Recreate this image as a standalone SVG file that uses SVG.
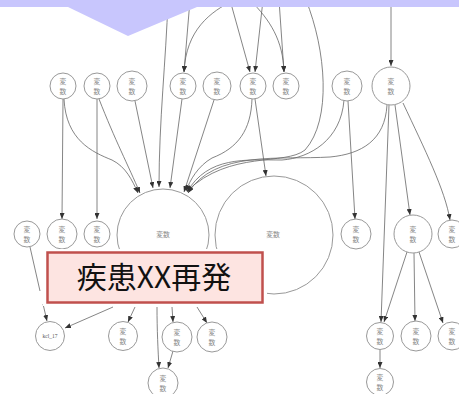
<svg xmlns="http://www.w3.org/2000/svg" width="459" height="394" viewBox="0 0 459 394">
<defs>
<marker id="arr" markerWidth="6" markerHeight="5" refX="6" refY="2.5" orient="auto" markerUnits="userSpaceOnUse">
<path d="M0,0 L6,2.5 L0,5 z" fill="#333"/>
</marker>
</defs>
<style>
.e{fill:none;stroke:#666;stroke-width:0.8;marker-end:url(#arr)}
.p{fill:none;stroke:#666;stroke-width:0.8}
.n{fill:#fff;stroke:#999;stroke-width:1}
.t{font-family:"Noto Sans CJK JP","Noto Sans CJK SC",sans-serif;font-size:6.8px;fill:#888;text-anchor:middle}
.k{font-family:"Liberation Serif",serif;font-size:5.5px;fill:#555;text-anchor:middle}
</style>
<rect width="459" height="394" fill="#fff"/>
<g id="connectors">
<path class="e" d="M168,0 C166,60 159,120 159,187"/>
<path class="e" d="M190,0 L184,72"/>
<path class="e" d="M234,0 C210,12 186,30 184,72"/>
<path class="e" d="M230,0 L250,72"/>
<path class="e" d="M263,0 L255,72"/>
<path class="e" d="M250,0 C270,20 283,40 284,72"/>
<path class="e" d="M279,0 L284,72"/>
<path class="e" d="M306,0 C326,50 332,120 305,150 C285,166 230,150 187,191"/>
<path class="e" d="M391,0 L391,66"/>
<path class="e" d="M63,99 L62,219"/>
<path class="e" d="M64,99 C66,140 92,152 112,160 C126,167 132,180 138,193"/>
<path class="e" d="M97,99 L97,219"/>
<path class="e" d="M99,99 C115,140 128,165 140,193"/>
<path class="e" d="M135,101 L153,188"/>
<path class="e" d="M182,99 L170,188"/>
<path class="e" d="M214,100 L184,192"/>
<path class="e" d="M252,99 C251,130 238,148 212,158 C198,166 190,180 186,191"/>
<path class="e" d="M255,99 L266,176"/>
<path class="e" d="M344,100 C341,140 310,158 282,160 C245,160 208,156 187,192"/>
<path class="e" d="M348,101 L355,219"/>
<path class="e" d="M387,105 C385,140 362,154 330,157 C280,160 215,150 188,193"/>
<path class="e" d="M389,105 L381,322"/>
<path class="e" d="M395,105 L410,215"/>
<path class="e" d="M403,103 C425,150 445,190 450,220"/>
<path class="p" d="M30,247 L40,291"/>
<path class="e" d="M43,304 L47,321"/>
<path class="e" d="M113,307 L65,328"/>
<path class="e" d="M135,307 L128,322"/>
<path class="e" d="M157,307 C157,330 158,350 159,368"/>
<path class="e" d="M172,307 L173,322"/>
<path class="e" d="M173,351 L168,368"/>
<path class="e" d="M197,307 L207,323"/>
<path class="e" d="M407,252 L384,322"/>
<path class="e" d="M414,253 L415,321"/>
<path class="e" d="M419,252 L443,323"/>
<path class="e" d="M380,349 L380,368"/>
</g>
<g id="banner">
<rect x="0" y="0" width="459" height="7" fill="#c8c6fd"/>
<polygon points="68,7 197,7 128,36" fill="#c8c6fd"/>
</g>
<g id="n1"><circle class="n" cx="63" cy="86" r="13"/><text class="t" x="63" y="84">変</text><text class="t" x="63" y="94">数</text></g>
<g id="n2"><circle class="n" cx="97" cy="86" r="13"/><text class="t" x="97" y="84">変</text><text class="t" x="97" y="94">数</text></g>
<g id="n3"><circle class="n" cx="132" cy="86" r="15"/><text class="t" x="132" y="84">変</text><text class="t" x="132" y="94">数</text></g>
<g id="n4"><circle class="n" cx="183" cy="86" r="13"/><text class="t" x="183" y="84">変</text><text class="t" x="183" y="94">数</text></g>
<g id="n5"><circle class="n" cx="217" cy="86" r="14"/><text class="t" x="217" y="84">変</text><text class="t" x="217" y="94">数</text></g>
<g id="n6"><circle class="n" cx="253" cy="86" r="13"/><text class="t" x="253" y="84">変</text><text class="t" x="253" y="94">数</text></g>
<g id="n7"><circle class="n" cx="286" cy="86" r="13"/><text class="t" x="286" y="84">変</text><text class="t" x="286" y="94">数</text></g>
<g id="n8"><circle class="n" cx="347" cy="86" r="15"/><text class="t" x="347" y="84">変</text><text class="t" x="347" y="94">数</text></g>
<g id="n9"><circle class="n" cx="391" cy="86" r="19"/><text class="t" x="391" y="84">変</text><text class="t" x="391" y="94">数</text></g>
<g id="n10"><circle class="n" cx="27" cy="234" r="13"/><text class="t" x="27" y="232">変</text><text class="t" x="27" y="242">数</text></g>
<g id="n11"><circle class="n" cx="62" cy="234" r="15"/><text class="t" x="62" y="232">変</text><text class="t" x="62" y="242">数</text></g>
<g id="n12"><circle class="n" cx="97" cy="234" r="13"/><text class="t" x="97" y="232">変</text><text class="t" x="97" y="242">数</text></g>
<g id="big1"><circle class="n" cx="163" cy="235" r="46"/><text class="t" x="163" y="237">変数</text></g>
<g id="big2"><circle class="n" cx="274" cy="235" r="59"/><text class="t" x="273" y="237">変数</text></g>
<g id="n13"><circle class="n" cx="356" cy="234" r="15"/><text class="t" x="356" y="232">変</text><text class="t" x="356" y="242">数</text></g>
<g id="n14"><circle class="n" cx="413" cy="234" r="19"/><text class="t" x="413" y="232">変</text><text class="t" x="413" y="242">数</text></g>
<g id="n15"><circle class="n" cx="452" cy="234" r="14"/><text class="t" x="452" y="232">変</text><text class="t" x="452" y="242">数</text></g>
<g id="kcl17"><circle class="n" cx="50" cy="336" r="14.5"/><text class="k" x="50" y="338">kcl_17</text></g>
<g id="n16"><circle class="n" cx="123" cy="336" r="14.5"/><text class="t" x="123" y="334">変</text><text class="t" x="123" y="344">数</text></g>
<g id="n17"><circle class="n" cx="177" cy="337" r="15"/><text class="t" x="177" y="335">変</text><text class="t" x="177" y="345">数</text></g>
<g id="n18"><circle class="n" cx="212" cy="337" r="15"/><text class="t" x="212" y="335">変</text><text class="t" x="212" y="345">数</text></g>
<g id="n19"><circle class="n" cx="380" cy="336" r="13.5"/><text class="t" x="380" y="334">変</text><text class="t" x="380" y="344">数</text></g>
<g id="n20"><circle class="n" cx="416" cy="336" r="15"/><text class="t" x="416" y="334">変</text><text class="t" x="416" y="344">数</text></g>
<g id="n21"><circle class="n" cx="452" cy="336" r="14"/><text class="t" x="452" y="334">変</text><text class="t" x="452" y="344">数</text></g>
<g id="n22"><circle class="n" cx="163" cy="383" r="15"/><text class="t" x="163" y="381">変</text><text class="t" x="163" y="391">数</text></g>
<g id="n23"><circle class="n" cx="380" cy="382" r="13.5"/><text class="t" x="380" y="380">変</text><text class="t" x="380" y="390">数</text></g>
<g id="callout">
<rect x="43" y="249" width="224" height="57" fill="#fff"/>
<rect x="47.5" y="252.5" width="215" height="50" fill="#fde4e1" stroke="#c0504d" stroke-width="2.5"/>
<text x="154" y="288" font-family="'Noto Sans CJK JP','Noto Sans CJK SC',sans-serif" font-size="30" fill="#111" text-anchor="middle">疾患XX再発</text>
</g>
</svg>
